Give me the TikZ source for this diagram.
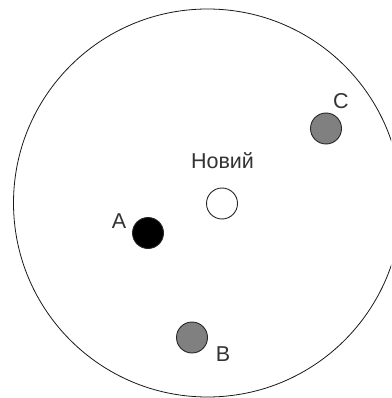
\documentclass[tikz,border=0pt]{standalone}
\usepackage{fontspec}
\setmainfont{Liberation Sans}
\definecolor{dotgray}{HTML}{808080}
\definecolor{txtgray}{HTML}{333333}
\tikzset{
  dot/.style={circle, draw=black!85, line width=0.9pt, minimum size=31pt, inner sep=0pt},
  lbl/.style={text=txtgray, font=\fontsize{21.5}{24}\selectfont, inner sep=0pt}
}
\begin{document}
\begin{tikzpicture}[x=1pt,y=-1pt]
\useasboundingbox (0,0) rectangle (391,398);
\clip (0,0) rectangle (391,398);
\fill[white] (0,0) rectangle (391,398);
\node[circle, draw=black!90, line width=0.8pt, minimum size=388pt, inner sep=0pt] (world) at (207.5,203) {};
\node[dot, fill=white] (new) at (222,203.5) {};
\node[dot, fill=black] (a) at (148,233) {};
\node[dot, fill=dotgray] (b) at (192,337.5) {};
\node[dot, fill=dotgray] (c) at (326,128.5) {};
\node[lbl] (tnew) at (222.5,161) {Новий};
\node[lbl] (ta) at (119,221) {A};
\node[lbl] (tb) at (223,354) {B};
\node[lbl] (tc) at (341,101) {C};
\end{tikzpicture}
\end{document}
